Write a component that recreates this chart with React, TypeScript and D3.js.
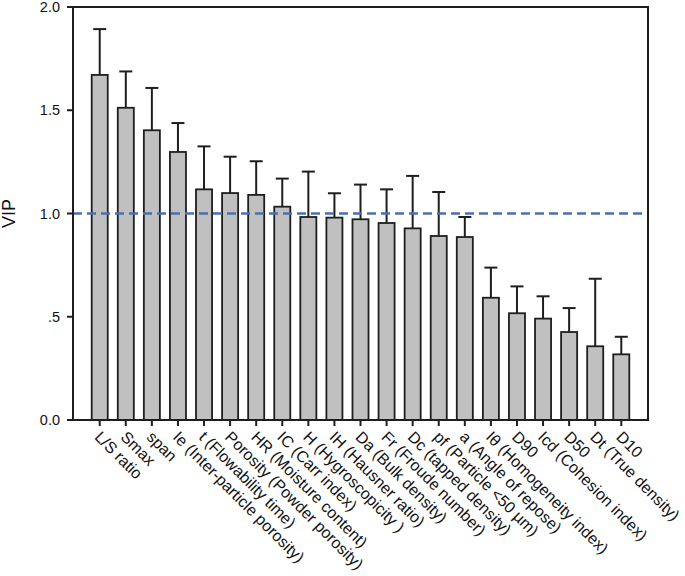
import React from "react";
import * as d3 from "d3";

const categories = [
  "L/S ratio",
  "Smax",
  "span",
  "Ie (Inter-particle porosity)",
  "t (Flowability time)",
  "Porosity (Powder porosity)",
  "HR (Moisture content)",
  "IC (Carr index)",
  "H (Hygroscopicity )",
  "IH (Hausner ratio)",
  "Da (Bulk density)",
  "Fr (Froude number)",
  "Dc (tapped density)",
  "pf (Particle <50 µm)",
  "a (Angle of repose)",
  "Iθ (Homogeneity index)",
  "D90",
  "Icd (Cohesion index)",
  "D50",
  "Dt (True density)",
  "D10",
];

const vipValues = [
  1.671, 1.512, 1.403, 1.298, 1.117, 1.099, 1.09, 1.033, 0.983, 0.98, 0.972,
  0.954, 0.928, 0.891, 0.886, 0.592, 0.517, 0.491, 0.426, 0.357, 0.318,
];

const errorTops = [
  1.893, 1.688, 1.608, 1.438, 1.325, 1.275, 1.253, 1.169, 1.203, 1.098, 1.14,
  1.117, 1.182, 1.104, 0.983, 0.738, 0.647, 0.599, 0.542, 0.684, 0.403,
];

const yTicks = [0, 0.5, 1.0, 1.5, 2.0];
const yTickLabels = ["0.0", ".5", "1.0", "1.5", "2.0"];
const threshold = 1.0;

const W = 685;
const H = 576;
const left = 73;
const right = 648;
const top = 7;
const bottom = 420;
const FONT = "'Liberation Sans', Arial, sans-serif";

export default function App() {
  const x = d3
    .scaleBand<string>()
    .domain(categories)
    .range([left, right])
    .paddingInner(0.385)
    .paddingOuter(0.717);
  const y = d3.scaleLinear().domain([0, 2]).range([bottom, top]);
  const bw = x.bandwidth();
  const capW = 13;
  const stroke = "#1e1e1e";

  return (
    <svg
      width={W}
      height={H}
      style={{ position: "absolute", left: 0, top: 0, background: "#fff" }}
      fontFamily={FONT}
    >
      {/* bars */}
      {categories.map((c, i) => {
        const x0 = x(c)!;
        const cx = x0 + bw / 2;
        return (
          <g key={c}>
            <line
              x1={cx}
              x2={cx}
              y1={y(vipValues[i])}
              y2={y(errorTops[i])}
              stroke={stroke}
              strokeWidth={2}
            />
            <line
              x1={cx - capW / 2}
              x2={cx + capW / 2}
              y1={y(errorTops[i])}
              y2={y(errorTops[i])}
              stroke={stroke}
              strokeWidth={2}
            />
            <rect
              x={x0}
              y={y(vipValues[i])}
              width={bw}
              height={y(0) - y(vipValues[i])}
              fill="#c0c0c0"
              stroke={stroke}
              strokeWidth={1.8}
            />
          </g>
        );
      })}

      {/* threshold */}
      <line
        x1={left}
        x2={right}
        y1={y(threshold)}
        y2={y(threshold)}
        stroke="#4a70b0"
        strokeWidth={2.5}
        strokeDasharray="9,5"
      />

      {/* frame */}
      <rect
        x={left}
        y={top}
        width={right - left}
        height={bottom - top}
        fill="none"
        stroke={stroke}
        strokeWidth={2}
      />

      {/* y axis */}
      {yTicks.map((t, i) => (
        <g key={t}>
          <line
            x1={left - 6}
            x2={left}
            y1={y(t)}
            y2={y(t)}
            stroke={stroke}
            strokeWidth={2}
          />
          <text
            x={left - 13}
            y={y(t)}
            dy="0.36em"
            textAnchor="end"
            fontSize={14.5}
            fill="#111"
          >
            {yTickLabels[i]}
          </text>
        </g>
      ))}
      <text
        transform={`translate(15, ${y(1)}) rotate(-90)`}
        textAnchor="middle"
        fontSize={18}
        fill="#111"
      >
        VIP
      </text>

      {/* x axis */}
      {categories.map((c) => {
        const cx = x(c)! + bw / 2;
        return (
          <g key={"t" + c}>
            <line
              x1={cx}
              x2={cx}
              y1={bottom}
              y2={bottom + 6}
              stroke={stroke}
              strokeWidth={2}
            />
            <text
              transform={`translate(${cx - 6}, ${bottom + 18}) rotate(45)`}
              textAnchor="start"
              fontSize={16}
              fill="#111"
            >
              {c}
            </text>
          </g>
        );
      })}
    </svg>
  );
}
